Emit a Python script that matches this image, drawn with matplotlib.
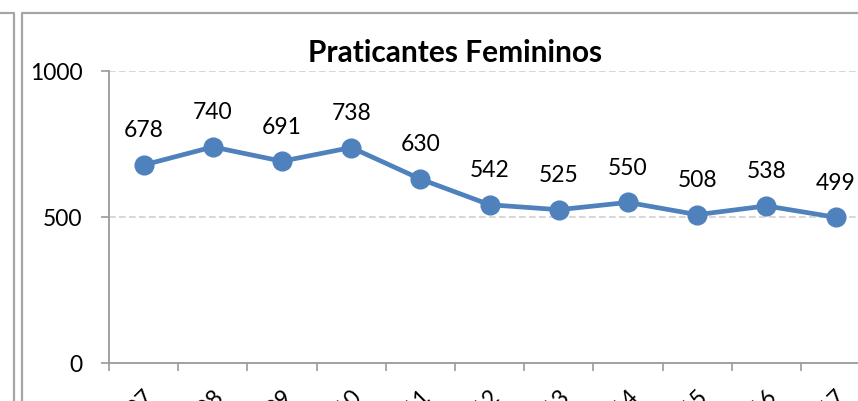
import matplotlib
matplotlib.use("Agg")
import matplotlib.pyplot as plt
from matplotlib.lines import Line2D

years = ["2007", "2008", "2009", "2010", "2011", "2012", "2013", "2014", "2015", "2016", "2017"]
values = [678, 740, 691, 738, 630, 542, 525, 550, 508, 538, 499]
yticks = [0, 500, 1000]
title = "Praticantes Femininos"

plt.rcParams['font.family'] = ['Lato', 'DejaVu Sans']

W, H = 858, 401
fig = plt.figure(figsize=(W / 100, H / 100), dpi=100)
fig.patch.set_facecolor("white")

# axes geometry in pixels
x0, x1 = 109, 109 + 69.2 * 11
ytop, ybot = 71, 363
ax = fig.add_axes([x0 / W, (H - ybot) / H, (x1 - x0) / W, (ybot - ytop) / H])
ax.set_facecolor("none")

n = len(values)
xs = list(range(n))
ax.plot(xs, values, color="#4F81BD", lw=3.4, marker="o", markersize=13.5,
        markerfacecolor="#4F81BD", markeredgecolor="#4F81BD", solid_capstyle="round", zorder=3,
        clip_on=False)
for x, v in zip(xs, values):
    ax.annotate(str(v), (x, v), xytext=(0, 17), textcoords="offset points",
                ha="center", va="bottom", fontsize=16.5, color="black")

ax.set_xlim(-0.5, n - 0.5)
ax.set_ylim(0, 1000)
ax.set_yticks(yticks)
ax.set_yticklabels([str(t) for t in yticks], fontsize=16.5)
ax.set_xticks([i - 0.5 for i in range(n + 1)], minor=False)
ax.set_xticklabels([])
ax.set_xticks(xs, minor=True)
ax.set_xticklabels(years, minor=True, rotation=45, ha="right", va="top",
                   rotation_mode="anchor", fontsize=16.5)
ax.tick_params(axis="x", which="minor", length=0, pad=16)
ax.tick_params(axis="x", which="major", length=6, width=1.2, color="#9a9a9a", direction="out")
ax.tick_params(axis="y", length=6, width=1.2, color="#9a9a9a", direction="out", pad=13)

for s in ["top", "right"]:
    ax.spines[s].set_visible(False)
for s in ["left", "bottom"]:
    ax.spines[s].set_color("#9a9a9a")
    ax.spines[s].set_linewidth(1.3)

for t in [500, 1000]:
    ax.axhline(t, color="#d0d0d0", lw=1.2, ls=(0, (4, 2)), zorder=1)

fig.text(455 / W, 1 - 53 / H, title, ha="center", va="center", fontsize=21.5,
         fontweight="bold")

# chart frames (border of this chart and the neighbouring one)
def px(x, y):
    return x / W, 1 - y / H
fr = dict(color="#a6a6a6", lw=1.6, transform=fig.transFigure)
fig.add_artist(Line2D(*zip(px(22, H + 5), px(22, 12.5), px(W + 5, 12.5)), **fr))
fig.add_artist(Line2D(*zip(px(-5, 12.5), px(14, 12.5), px(14, H + 5)), **fr))

fig.savefig("out.png", dpi=100)
